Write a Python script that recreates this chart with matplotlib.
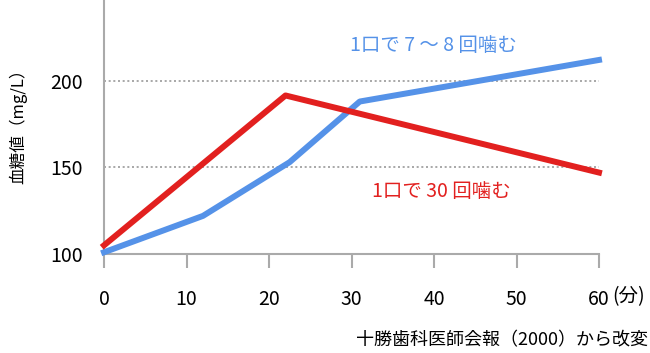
import matplotlib.pyplot as plt

plt.rcParams['font.family'] = ['Noto Sans CJK JP', 'DejaVu Sans']

# data
x_ticks = [0, 10, 20, 30, 40, 50, 60]
x_labels = ['0', '10', '20', '30', '40', '50', '60']
y_ticks = [100, 150, 200]

time_7_8 = [0, 12, 22.5, 31, 60]
glucose_7_8 = [101, 122, 153, 188, 212]

time_30 = [0, 22, 60]
glucose_30 = [105, 191.5, 147]

blue = '#5592e8'
red = '#e2201f'
gray = '#aaaaaa'

fig = plt.figure(figsize=(6.5, 3.53), dpi=100)
ax = fig.add_axes([104 / 650, 99 / 353, 495 / 650, 254 / 353])

ax.plot(time_7_8, glucose_7_8, color=blue, lw=4.3, clip_on=False, zorder=3)
ax.plot(time_30, glucose_30, color=red, lw=4.3, clip_on=False, zorder=4)

ax.set_xlim(0, 60)
ax.set_ylim(100, 246.6)

for y in [150, 200]:
    ax.axhline(y, color='#999999', lw=1.2, ls=(0, (1.2, 1.6)), zorder=1)

ax.set_xticks(x_ticks)
ax.set_xticklabels(x_labels)
ax.set_yticks(y_ticks)

ax.tick_params(axis='x', direction='out', length=10, width=1.5, color=gray,
               pad=15, labelsize=14)
ax.tick_params(axis='y', length=0, pad=15, labelsize=14)

for s in ['top', 'right']:
    ax.spines[s].set_visible(False)
for s in ['left', 'bottom']:
    ax.spines[s].set_color(gray)
    ax.spines[s].set_linewidth(1.5)

ax.text(29.8, 220.6, '1口で 7 ～ 8 回噛む', color=blue, fontsize=14,
        ha='left', va='center')
ax.text(32.5, 135.8, '1口で 30 回噛む', color=red, fontsize=14,
        ha='left', va='center')

fig.text(612 / 650, 1 - 297 / 353, '(分)', fontsize=14, va='center', ha='left')
fig.text(18 / 650, 1 - 122 / 353, '血糖値（mg/L）', fontsize=12, rotation=90,
         va='center', ha='center')
fig.text(648 / 650, 1 - 340 / 353, '十勝歯科医師会報（2000）から改変',
         fontsize=13, ha='right', va='center')

fig.savefig('out.png', dpi=100)
